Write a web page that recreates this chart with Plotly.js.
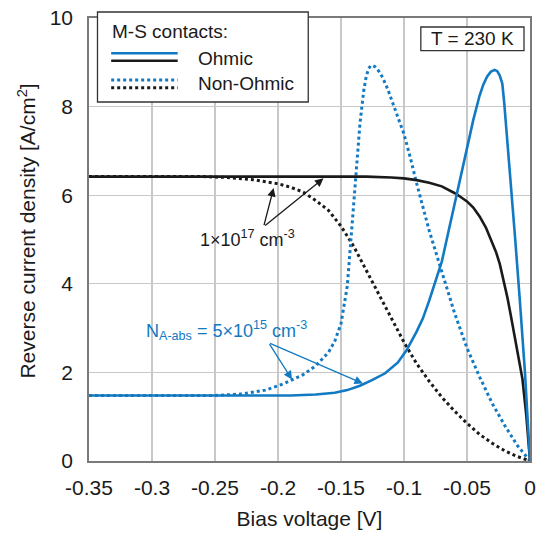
<!DOCTYPE html>
<html>
<head>
<meta charset="utf-8">
<script src="https://cdn.plot.ly/plotly-3.0.1.min.js"></script>
<style>
  html, body { margin: 0; padding: 0; background: #fff; }
  #chart { width: 540px; height: 536px; }
</style>
</head>
<body>
<div id="chart"></div>
<script>
// Bias voltage [V] and reverse current density [A/cm^2] for each contact type / doping

// Ohmic contact, N = 1e17 cm^-3
const ohmicHighV = [-0.35, -0.13, -0.11, -0.1, -0.09, -0.08, -0.07, -0.065, -0.06, -0.055, -0.05, -0.045, -0.04, -0.035, -0.03, -0.027, -0.024, -0.021, -0.018, -0.015, -0.012, -0.009, -0.006, -0.003, 0];
const ohmicHighJ = [6.42, 6.42, 6.4, 6.38, 6.34, 6.28, 6.2, 6.13, 6.05, 5.96, 5.86, 5.72, 5.52, 5.27, 4.95, 4.72, 4.45, 4.1, 3.7, 3.25, 2.8, 2.38, 1.85, 1.05, 0];

// Ohmic contact, N_A-abs = 5e15 cm^-3
const ohmicLowV = [-0.35, -0.19, -0.17, -0.155, -0.145, -0.135, -0.125, -0.115, -0.105, -0.098, -0.09, -0.085, -0.08, -0.075, -0.07, -0.065, -0.06, -0.055, -0.05, -0.045, -0.04, -0.037, -0.034, -0.031, -0.028, -0.026, -0.024, -0.022, -0.0205, -0.019, -0.016, -0.012, -0.008, -0.004, 0];
const ohmicLowJ = [1.48, 1.48, 1.5, 1.54, 1.6, 1.7, 1.83, 1.98, 2.22, 2.5, 2.92, 3.22, 3.62, 4.05, 4.5, 5.14, 5.79, 6.44, 7.07, 7.7, 8.25, 8.5, 8.68, 8.79, 8.83, 8.8, 8.7, 8.52, 8.1, 7.6, 6.6, 5.1, 3.6, 2.0, 0];

// Non-Ohmic contact, N = 1e17 cm^-3
const nonOhmicHighV = [-0.35, -0.26, -0.24, -0.22, -0.2, -0.19, -0.18, -0.17, -0.16, -0.15, -0.14, -0.13, -0.12, -0.11, -0.1, -0.09, -0.08, -0.07, -0.06, -0.05, -0.04, -0.03, -0.02, -0.01, 0];
const nonOhmicHighJ = [6.42, 6.42, 6.4, 6.35, 6.26, 6.18, 6.07, 5.88, 5.66, 5.3, 4.85, 4.3, 3.76, 3.22, 2.68, 2.2, 1.8, 1.44, 1.13, 0.85, 0.6, 0.4, 0.23, 0.1, 0];

// Non-Ohmic contact, N_A-abs = 5e15 cm^-3
const nonOhmicLowV = [-0.35, -0.25, -0.23, -0.21, -0.195, -0.18, -0.17, -0.16, -0.155, -0.15, -0.145, -0.142, -0.14, -0.137, -0.135, -0.132, -0.13, -0.128, -0.1265, -0.125, -0.123, -0.12, -0.117, -0.113, -0.108, -0.104, -0.1, -0.095, -0.09, -0.08, -0.07, -0.06, -0.05, -0.04, -0.03, -0.02, -0.01, -0.005, 0];
const nonOhmicLowJ = [1.48, 1.48, 1.51, 1.6, 1.75, 1.95, 2.15, 2.45, 2.7, 3.1, 3.95, 5.0, 5.8, 6.9, 7.6, 8.35, 8.68, 8.86, 8.92, 8.93, 8.9, 8.8, 8.66, 8.4, 8.0, 7.68, 7.38, 6.85, 6.27, 5.2, 4.25, 3.35, 2.55, 1.9, 1.3, 0.8, 0.35, 0.17, 0];

// Axis ticks
const xTickVals = [-0.35, -0.3, -0.25, -0.2, -0.15, -0.1, -0.05, 0];
const xTickText = ['-0.35', '-0.3', '-0.25', '-0.2', '-0.15', '-0.1', '-0.05', '0'];
const yTickVals = [0, 2, 4, 6, 8, 10];

const BLUE = '#1279c3';
const BLACK = '#1a1a1a';
const FONT = 'Arial, "Liberation Sans", Helvetica, sans-serif';

// plot-area geometry in pixels, used to place the inset boxes
const L = 88.5, R = 530, T = 18, B = 461;
const px = x => (x - L) / (R - L);
const py = y => (B - y) / (B - T);

const traces = [
  { x: nonOhmicHighV, y: nonOhmicHighJ, mode: 'lines', line: { color: BLACK, width: 3, dash: 'dot' }, showlegend: false },
  { x: nonOhmicLowV, y: nonOhmicLowJ, mode: 'lines', line: { color: BLUE, width: 3, dash: 'dot' }, showlegend: false },
  { x: ohmicHighV, y: ohmicHighJ, mode: 'lines', line: { color: BLACK, width: 2.6 }, showlegend: false },
  { x: ohmicLowV, y: ohmicLowJ, mode: 'lines', line: { color: BLUE, width: 2.6 }, showlegend: false }
];

const shapes = [
  // key box
  { type: 'rect', xref: 'paper', yref: 'paper', x0: px(97), x1: px(308), y0: py(102), y1: py(12), fillcolor: '#fff', line: { color: '#333', width: 1.3 }, layer: 'above' },
  { type: 'line', xref: 'paper', yref: 'paper', x0: px(110.7), x1: px(177.3), y0: py(53.3), y1: py(53.3), line: { color: BLUE, width: 2.6 }, layer: 'above' },
  { type: 'line', xref: 'paper', yref: 'paper', x0: px(110.7), x1: px(177.3), y0: py(60.7), y1: py(60.7), line: { color: BLACK, width: 2.6 }, layer: 'above' },
  { type: 'line', xref: 'paper', yref: 'paper', x0: px(110.7), x1: px(177.3), y0: py(80), y1: py(80), line: { color: BLUE, width: 3, dash: 'dot' }, layer: 'above' },
  { type: 'line', xref: 'paper', yref: 'paper', x0: px(110.7), x1: px(177.3), y0: py(87.7), y1: py(87.7), line: { color: BLACK, width: 3, dash: 'dot' }, layer: 'above' },
  // temperature box
  { type: 'rect', xref: 'paper', yref: 'paper', x0: px(420.7), x1: px(524), y0: py(50.7), y1: py(27), fillcolor: '#fff', line: { color: '#333', width: 1.3 }, layer: 'above' }
];

function arrow(hx, hy, tx, ty, color) {
  return {
    x: hx, y: hy, ax: tx, ay: ty, xref: 'x', yref: 'y', axref: 'x', ayref: 'y',
    text: '', showarrow: true, arrowhead: 2, arrowsize: 1.3, arrowwidth: 1.3, arrowcolor: color, standoff: 0
  };
}

const annotations = [
  { xref: 'paper', yref: 'paper', x: px(110), y: py(31), xanchor: 'left', yanchor: 'middle', text: 'M-S contacts:', showarrow: false, font: { family: FONT, size: 19, color: BLACK } },
  { xref: 'paper', yref: 'paper', x: px(196), y: py(58.5), xanchor: 'left', yanchor: 'middle', text: 'Ohmic', showarrow: false, font: { family: FONT, size: 19, color: BLACK } },
  { xref: 'paper', yref: 'paper', x: px(196), y: py(83.5), xanchor: 'left', yanchor: 'middle', text: 'Non-Ohmic', showarrow: false, font: { family: FONT, size: 19, color: BLACK } },
  { xref: 'paper', yref: 'paper', x: px(472.3), y: py(39), xanchor: 'center', yanchor: 'middle', text: 'T = 230 K', showarrow: false, font: { family: FONT, size: 19, color: BLACK } },
  { xref: 'paper', yref: 'paper', x: px(198), y: py(238), xanchor: 'left', yanchor: 'middle', text: '1×10<sup>17</sup> cm<sup>-3</sup>', showarrow: false, font: { family: FONT, size: 18, color: BLACK } },
  { xref: 'paper', yref: 'paper', x: px(144), y: py(330), xanchor: 'left', yanchor: 'middle', text: 'N<sub>A-abs</sub> = 5×10<sup>15</sup> cm<sup>-3</sup>', showarrow: false, font: { family: FONT, size: 18, color: BLUE } },
  // y-axis title
  { xref: 'paper', yref: 'paper', x: px(26), y: py(231), xanchor: 'center', yanchor: 'middle', textangle: -90, text: 'Reverse current density [A/cm<sup>2</sup>]', showarrow: false, font: { family: FONT, size: 21, color: BLACK } },
  arrow(-0.2035, 6.16, -0.2114, 5.29, BLACK),
  arrow(-0.1639, 6.38, -0.2114, 5.29, BLACK),
  arrow(-0.1889, 1.84, -0.2075, 2.67, BLUE),
  arrow(-0.1326, 1.75, -0.2075, 2.67, BLUE)
];

const layout = {
  width: 540, height: 536,
  margin: { l: L, r: 540 - R, t: T, b: 536 - B },
  paper_bgcolor: '#fff', plot_bgcolor: '#fff',
  font: { family: FONT, color: BLACK },
  showlegend: false,
  xaxis: {
    range: [-0.35, 0], tickvals: xTickVals, ticktext: xTickText,
    showgrid: true, gridcolor: '#c8c8c8', gridwidth: 1.3,
    showline: true, linecolor: '#7a7a7a', linewidth: 1.8, mirror: true,
    zeroline: false, ticks: '', ticklabelstandoff: 7,
    tickfont: { family: FONT, size: 21, color: BLACK },
    title: { text: 'Bias voltage [V]', font: { family: FONT, size: 21, color: BLACK }, standoff: 13 }
  },
  yaxis: {
    range: [0, 10], tickvals: yTickVals,
    showgrid: true, gridcolor: '#c8c8c8', gridwidth: 1.3,
    showline: true, linecolor: '#7a7a7a', linewidth: 1.8, mirror: true,
    zeroline: false, ticks: '', ticklabelstandoff: 10,
    tickfont: { family: FONT, size: 21, color: BLACK }
  },
  shapes: shapes,
  annotations: annotations
};

Plotly.newPlot('chart', traces, layout, { staticPlot: true, displayModeBar: false });
</script>
</body>
</html>
